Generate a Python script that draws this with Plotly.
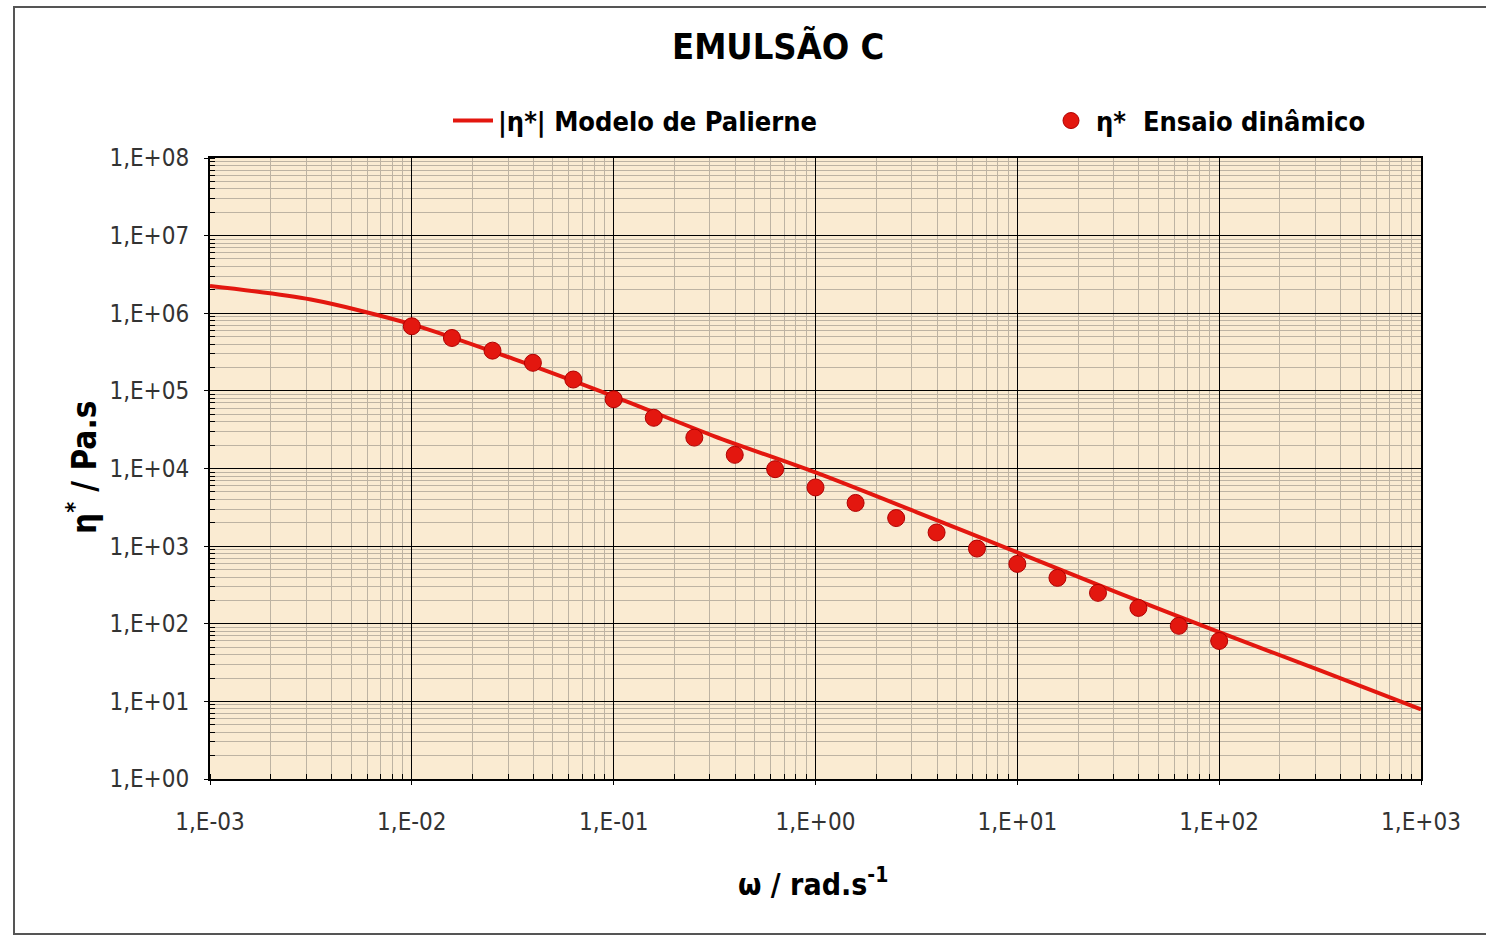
import plotly.graph_objects as go

# ---- data ----
omega_exp = [0.01, 0.0158, 0.0251, 0.0398, 0.0631, 0.1, 0.158, 0.251, 0.398, 0.631,
             1.0, 1.58, 2.51, 3.98, 6.31, 10.0, 15.8, 25.1, 39.8, 63.1, 100.0]
eta_exp = [6.8e5, 4.8e5, 3.3e5, 2.3e5, 1.4e5, 7.8e4, 4.5e4, 2.5e4, 1.5e4, 9.8e3,
           5.7e3, 3.6e3, 2.3e3, 1.5e3, 930, 590, 390, 250, 160, 94, 60]

omega_model = [0.001, 0.00316, 0.01, 0.0316, 0.1, 0.316, 1.0, 3.16, 10.0, 31.6, 100.0, 316.0, 1000.0]
eta_model = [2.24e6, 1.5e6, 7.2e5, 2.6e5, 8.5e4, 2.6e4, 8.9e3, 2.75e3, 830, 250, 78, 25, 7.9]

x_tickvals = [1e-3, 1e-2, 1e-1, 1e0, 1e1, 1e2, 1e3]
x_ticktext = ["1,E-03", "1,E-02", "1,E-01", "1,E+00", "1,E+01", "1,E+02", "1,E+03"]
y_tickvals = [1e0, 1e1, 1e2, 1e3, 1e4, 1e5, 1e6, 1e7, 1e8]
y_ticktext = ["1,E+00", "1,E+01", "1,E+02", "1,E+03", "1,E+04", "1,E+05", "1,E+06", "1,E+07", "1,E+08"]

title_text = "EMULSÃO C"
name_model = "|η*| Modelo de Palierne"
name_exp = "η*  Ensaio dinâmico"
x_title = "ω / rad.s<sup>-1</sup>"
y_title = "η<sup>*</sup> / Pa.s"

# ---- layout geometry ----
W, H = 1486, 938
L, R, T, B = 210, W - 1421, 158, H - 779
pw, ph = W - L - R, H - T - B

def px(xp):
    return (xp - L) / pw

def py(yp):
    return (H - B - yp) / ph

FONT = "DejaVu Sans Condensed, Liberation Sans Narrow, Arial Narrow, sans-serif"
RED = "#E3170F"

fig = go.Figure()
fig.add_trace(go.Scatter(
    x=omega_model, y=eta_model, mode="lines", name=name_model, legend="legend",
    line=dict(color=RED, width=4, shape="spline", smoothing=0.8),
))
fig.add_trace(go.Scatter(
    x=omega_exp, y=eta_exp, mode="markers", name=name_exp, legend="legend2",
    marker=dict(color=RED, size=17, line=dict(color="#B00000", width=1)),
))

axis_common = dict(
    type="log",
    showline=True, mirror=True, linecolor="black", linewidth=2,
    showgrid=True, gridcolor="black", gridwidth=1.3,
    zeroline=False,
    ticks="outside", ticklen=4, tickcolor="black",
    tickfont=dict(family=FONT, size=24, color="#333333"),
    minor=dict(dtick="D1", showgrid=True, gridcolor="#BDB3A3", gridwidth=1,
               ticks="inside", ticklen=5, tickcolor="black"),
)

fig.update_xaxes(**axis_common, range=[-3, 3], tickvals=x_tickvals, ticktext=x_ticktext,
                 ticklabelstandoff=16)
fig.update_yaxes(**axis_common, range=[0, 8], tickvals=y_tickvals, ticktext=y_ticktext,
                 ticklabelstandoff=10)

legend_font = dict(family=FONT, size=27, color="black", weight="bold")
fig.update_layout(
    width=W, height=H,
    margin=dict(l=L, r=R, t=T, b=B, autoexpand=False),
    paper_bgcolor="white",
    plot_bgcolor="#FAEBD2",
    showlegend=True,
    legend=dict(
        orientation="h", x=px(448), y=py(121), xanchor="left", yanchor="middle",
        font=legend_font, bgcolor="rgba(0,0,0,0)", itemwidth=40,
    ),
    legend2=dict(
        orientation="h", x=px(1046), y=py(121), xanchor="left", yanchor="middle",
        font=legend_font, bgcolor="rgba(0,0,0,0)", itemwidth=40,
    ),
    annotations=[
        dict(text=title_text, x=px(778), y=py(46), xref="paper", yref="paper",
             xanchor="center", yanchor="middle",
             showarrow=False, font=dict(family=FONT, size=36, color="black", weight="bold")),
        dict(text=x_title, x=px(813), y=py(882), xref="paper", yref="paper",
             xanchor="center", yanchor="middle",
             showarrow=False, font=dict(family=FONT, size=30, color="black", weight="bold")),
        dict(text=y_title, x=px(82), y=py(468), xref="paper", yref="paper", textangle=-90,
             xanchor="center", yanchor="middle",
             showarrow=False, font=dict(family=FONT, size=33, color="black", weight="bold")),
    ],
    shapes=[
        dict(type="rect", xref="paper", yref="paper",
             x0=px(14), x1=px(1500), y0=py(934), y1=py(7),
             line=dict(color="#555555", width=2), layer="below"),
    ],
)

fig.write_html("out.html")
